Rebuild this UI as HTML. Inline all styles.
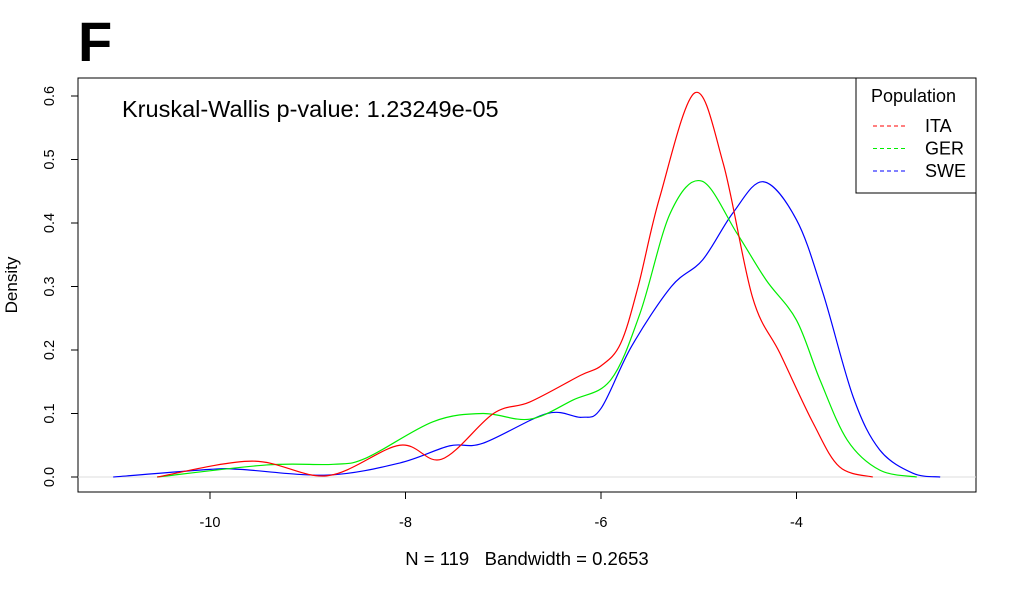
<!DOCTYPE html>
<html><head><meta charset="utf-8"><style>
body{margin:0;background:#fff}
svg text{font-family:"Liberation Sans",Arial,sans-serif}
</style></head><body>
<svg width="1017" height="590" viewBox="0 0 1017 590">
<text x="78" y="61" font-size="56" font-weight="bold">F</text>
<rect x="78" y="78" width="898" height="414" fill="none" stroke="#000" stroke-width="1"/>
<line x1="78" x2="976" y1="477" y2="477" stroke="#ddd"/>
<g id="axes"></g>
<g id="series"></g>
<text x="122" y="117" font-size="23.5">Kruskal-Wallis p-value: 1.23249e-05</text>
<g>
<rect x="856" y="78" width="120" height="115" fill="#fff" stroke="#000"/>
<text x="871" y="102" font-size="18">Population</text>
<g id="legend-items"></g>
</g>
<text x="527" y="565" font-size="18.5" text-anchor="middle" xml:space="preserve" style="white-space:pre">N = 119   Bandwidth = 0.2653</text>
<text transform="translate(17,285) rotate(-90)" font-size="17" text-anchor="middle">Density</text>
</svg>
<script>
const xTicks=[-10,-8,-6,-4];
const yTicks=[0,0.1,0.2,0.3,0.4,0.5,0.6];
const yTickLabels=["0.0","0.1","0.2","0.3","0.4","0.5","0.6"];
const seriesNames=["ITA","GER","SWE"];
const seriesColors=["#ff0000","#00ee00","#0000ff"];
const itaX=[-10.54,-9.57,-8.8,-8.06,-7.63,-7.1,-6.73,-6.21,-6.0,-5.8,-5.62,-5.4,-5.04,-4.75,-4.45,-4.17,-3.83,-3.56,-3.22];
const itaY=[0,0.025,0.002,0.05,0.028,0.10,0.118,0.16,0.175,0.21,0.30,0.44,0.605,0.494,0.283,0.195,0.085,0.016,0];
const gerX=[-10.54,-9.42,-8.74,-8.4,-7.72,-7.21,-6.73,-6.29,-5.9,-5.6,-5.29,-4.97,-4.61,-4.31,-4.0,-3.76,-3.48,-3.15,-2.77];
const gerY=[0,0.019,0.02,0.03,0.087,0.10,0.091,0.121,0.153,0.258,0.416,0.466,0.384,0.31,0.247,0.153,0.058,0.011,0];
const sweX=[-10.99,-10,-9.69,-8.8,-8.06,-7.55,-7.21,-6.55,-6.2,-6.0,-5.69,-5.28,-4.96,-4.65,-4.34,-4.0,-3.73,-3.42,-3.15,-2.81,-2.53];
const sweY=[0,0.012,0.012,0.003,0.022,0.049,0.053,0.10,0.094,0.108,0.205,0.30,0.342,0.416,0.465,0.405,0.29,0.126,0.043,0.006,0];
const NS="http://www.w3.org/2000/svg";
const sx=v=>210+(v+10)*97.75;
const sy=v=>477-v*635;
function mk(t,a,p){const e=document.createElementNS(NS,t);for(const k in a)e.setAttribute(k,a[k]);p.appendChild(e);return e;}
const ax=document.getElementById('axes');
xTicks.forEach(t=>{
 const l=mk('line',{x1:sx(t),x2:sx(t),y1:492,y2:499,stroke:'#000'},ax);
 
 
 const tx=mk('text',{x:sx(t),y:527,'font-size':14.5,'text-anchor':'middle'},ax);
 tx.textContent=String(t);
 
 
});
yTicks.forEach((t,i)=>{
 const l=mk('line',{x1:71,x2:78,y1:sy(t),y2:sy(t),stroke:'#000'},ax);
 
 
 const tx=mk('text',{transform:`translate(54,${sy(t)}) rotate(-90)`,'font-size':14.5,'text-anchor':'middle'},ax);
 tx.textContent=yTickLabels[i];
 
 
});
function pathFor(X,Y){
 const p=X.map((x,i)=>[sx(x),sy(Y[i])]);
 let d=`M${p[0][0]},${p[0][1]}`;
 for(let i=0;i<p.length-1;i++){
  const p0=p[i-1]||p[i],p1=p[i],p2=p[i+1],p3=p[i+2]||p[i+1];
  const c1=[p1[0]+(p2[0]-p0[0])/6,p1[1]+(p2[1]-p0[1])/6];
  const c2=[p2[0]-(p3[0]-p1[0])/6,p2[1]-(p3[1]-p1[1])/6];
  d+=`C${c1[0]},${c1[1]} ${c2[0]},${c2[1]} ${p2[0]},${p2[1]}`;
 }
 return d;
}
const sg=document.getElementById('series');
[[sweX,sweY,2],[gerX,gerY,1],[itaX,itaY,0]].forEach(([X,Y,i])=>{
 const pth=mk('path',{d:pathFor(X,Y),fill:'none',stroke:seriesColors[i],'stroke-width':1.2},sg);
 
 
});
const lg=document.getElementById('legend-items');
seriesNames.forEach((n,i)=>{
 const y=126+i*22.5;
 const l=mk('line',{x1:873,x2:906,y1:y,y2:y,stroke:seriesColors[i],'stroke-dasharray':'4,3'},lg);
 
 
 const t=mk('text',{x:925,y:y+6,'font-size':18},lg);
 t.textContent=n;
 
 
});
</script>
</body></html>
